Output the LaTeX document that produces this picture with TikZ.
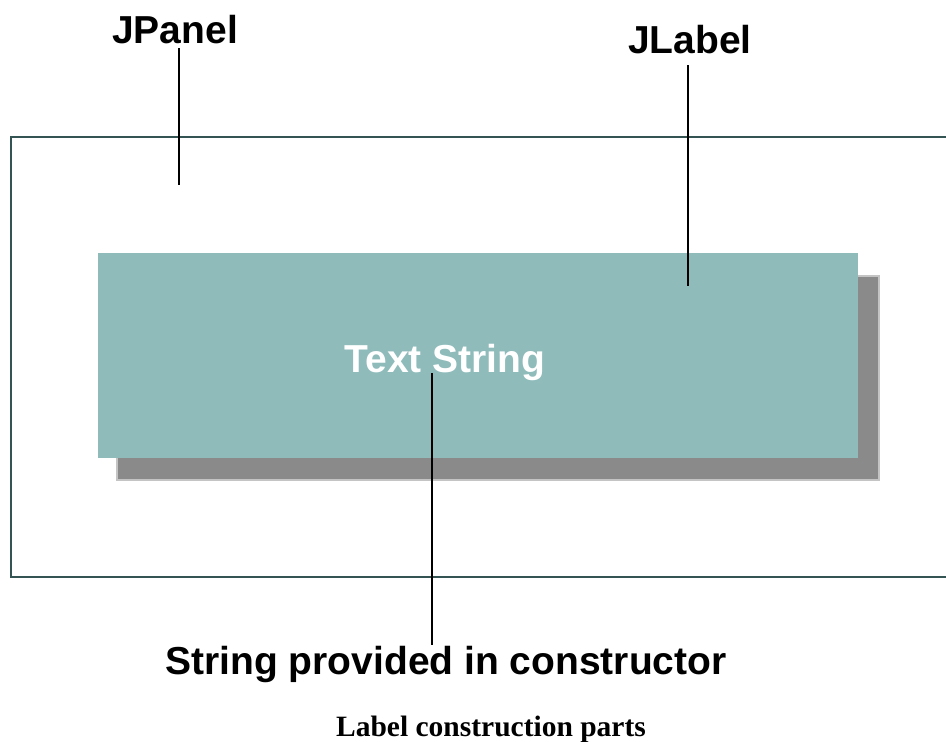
\documentclass[tikz,border=0pt]{standalone}
\usepackage{fontspec}
\setmainfont{Liberation Serif}
\setsansfont{Liberation Sans}
\definecolor{panelline}{RGB}{52,84,84}
\definecolor{labelfill}{RGB}{143,187,187}
\definecolor{shadowgray}{RGB}{138,138,138}
\tikzset{
  callout/.style={font=\sffamily\bfseries\fontsize{39}{39}\selectfont, anchor=base, inner sep=0pt},
  leader/.style={draw=black, line width=2pt},
}
\begin{document}
\begin{tikzpicture}[x=1pt,y=-1pt]
\useasboundingbox (0,0) rectangle (946,742);
\fill[white] (0,0) rectangle (946,742);
% panel
\draw[panelline, line width=2pt] (950,137) -- (11,137) -- (11,577) -- (950,577);
% shadow and label box
\fill[shadowgray, opacity=0.5] (116,275) rectangle (880,481);
\fill[shadowgray] (118,277) rectangle (878,479);
\fill[labelfill] (98,253) rectangle (858,458);
% texts
\node[callout] (jpanel) at (175,43) {JPanel};
\node[callout] (jlabel) at (690,53) {JLabel};
\node[callout, text=white] (textstring) at (445,372) {Text String};
\node[callout] (ctor) at (446,674) {String provided in constructor};
\node[font=\rmfamily\bfseries\fontsize{29.5}{29.5}\selectfont, anchor=base, inner sep=0pt] (caption) at (491,736) {Label construction parts};
% leaders
\coordinate (jpEnd) at (179,185);
\coordinate (jlEnd) at (688,286);
\coordinate (tsTop) at (432,373);
\coordinate (ctTop) at (432,645);
\draw[leader] (jpEnd |- 0,48) -- (jpEnd);
\draw[leader] (jlEnd |- 0,65) -- (jlEnd);
\draw[leader] (tsTop) -- (ctTop);
\end{tikzpicture}
\end{document}
